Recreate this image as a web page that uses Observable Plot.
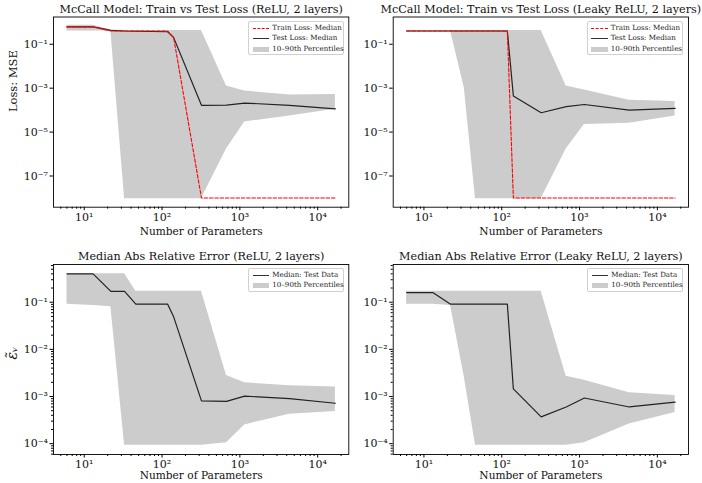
<!DOCTYPE html>
<html>
<head>
<meta charset="utf-8">
<script src="https://cdn.jsdelivr.net/npm/d3@7"></script>
<script src="https://cdn.jsdelivr.net/npm/@observablehq/plot@0.6"></script>
<style>
  body { margin: 0; background: #fff; }
  #wrap { position: relative; width: 702px; height: 483px; background: #fff; font-family: "DejaVu Serif", serif; }
  .panel { position: absolute; }
  .panel svg { background: transparent !important; overflow: visible; }
  .legend { position: absolute; border: 0.8px solid #d0d0d0; border-radius: 2px; background: rgba(255,255,255,0.85); font-family: "DejaVu Serif", serif; font-size: 7.1px; color: #222; box-sizing: border-box; }
  .legend .row { position: absolute; left: 0; height: 8px; width: 100%; }
  .legend .h { position: absolute; left: 3.5px; width: 16.5px; }
  .legend .t { position: absolute; left: 23px; top: -1.3px; white-space: nowrap; line-height: 10px; }
</style>
</head>
<body>
<div id="wrap"></div>
<script>
// ---------------- data ----------------
const params = [6, 13, 22, 33, 46, 118, 141, 321, 673, 1153, 4353, 16897];

// Top-left: ReLU loss
const trainMedReLU = [0.62, 0.62, 0.4, 0.4, 0.4, 0.4, 0.2, 1e-8, 1e-8, 1e-8, 1e-8, 1e-8];
const testMedReLU  = [0.62, 0.62, 0.43, 0.4, 0.39, 0.37, 0.2, 1.66e-4, 1.7e-4, 2.1e-4, 1.65e-4, 1.15e-4];
const testLoReLU   = [0.4, 0.4, 0.4, 9.3e-9, 9.3e-9, 9.3e-9, 9.3e-9, 9.3e-9, 1.7e-6, 2.9e-5, 5.4e-5, 1.1e-4];
const testHiReLU   = [0.74, 0.74, 0.45, 0.42, 0.42, 0.42, 0.42, 0.42, 1.26e-3, 7.4e-4, 4.9e-4, 5.2e-4];

// Top-right: Leaky ReLU loss
const trainMedLeaky = [0.4, 0.4, 0.4, 0.4, 0.4, 0.4, 1e-8, 1e-8, 1e-8, 1e-8, 1e-8, 1e-8];
const testMedLeaky  = [0.4, 0.4, 0.4, 0.4, 0.4, 0.4, 4.4e-4, 7.6e-5, 1.45e-4, 1.8e-4, 1.0e-4, 1.2e-4];
const testLoLeaky   = [0.4, 0.4, 0.4, 1.05e-3, 9.3e-9, 9.3e-9, 9.3e-9, 9.3e-9, 1.7e-6, 2.2e-5, 2.5e-5, 5.4e-5];
const testHiLeaky   = [0.42, 0.42, 0.42, 0.42, 0.42, 0.42, 0.42, 0.42, 1.26e-3, 8.3e-4, 2.8e-4, 2.5e-4];

// Bottom-left: ReLU relative error
const errMedReLU = [0.4, 0.4, 0.17, 0.17, 0.091, 0.091, 0.049, 8.1e-4, 7.9e-4, 1.02e-3, 9e-4, 7.2e-4];
const errLoReLU  = [0.091, 0.085, 0.08, 9.3e-5, 9.3e-5, 9.3e-5, 9.3e-5, 9.3e-5, 1.05e-4, 2.5e-4, 4.2e-4, 4.8e-4];
const errHiReLU  = [0.4, 0.4, 0.4, 0.4, 0.17, 0.17, 0.17, 0.17, 2.8e-3, 1.95e-3, 1.7e-3, 1.6e-3];

// Bottom-right: Leaky ReLU relative error
const errMedLeaky = [0.16, 0.16, 0.091, 0.091, 0.091, 0.091, 1.45e-3, 3.7e-4, 6e-4, 9.3e-4, 6e-4, 7.6e-4];
const errLoLeaky  = [0.091, 0.091, 0.085, 2.6e-3, 9.3e-5, 9.3e-5, 9.3e-5, 9.3e-5, 9.3e-5, 1.05e-4, 2.6e-4, 4.6e-4];
const errHiLeaky  = [0.17, 0.17, 0.17, 0.17, 0.17, 0.17, 0.17, 0.17, 2.7e-3, 2.2e-3, 1.2e-3, 1.05e-3];

// ticks & labels
const xMajor = [10, 100, 1000, 10000];
const yMajorLoss = [1e-1, 1e-3, 1e-5, 1e-7];
const yMajorErr = [1e-1, 1e-2, 1e-3, 1e-4];
const titles = [
  "McCall Model: Train vs Test Loss (ReLU, 2 layers)",
  "McCall Model: Train vs Test Loss (Leaky ReLU, 2 layers)",
  "Median Abs Relative Error (ReLU, 2 layers)",
  "Median Abs Relative Error (Leaky ReLU, 2 layers)"
];
const xLabel = "Number of Parameters";
const yLabels = ["Loss: MSE", "\u03B5\u0303\u1D65"];
const legendLoss = ["Train Loss: Median", "Test Loss: Median", "10\u201390th Percentiles"];
const legendErr = ["Median: Test Data", "10\u201390th Percentiles"];

// ---------------- helpers ----------------
const SUP = {"0":"\u2070","1":"\u00B9","2":"\u00B2","3":"\u00B3","4":"\u2074","5":"\u2075","6":"\u2076","7":"\u2077","8":"\u2078","9":"\u2079","-":"\u207B"};
const fmtPow = v => "10" + String(Math.round(Math.log10(v))).split("").map(c => SUP[c]).join("");
const minorTicks = (lo, hi) => {
  const out = [];
  for (let e = Math.floor(Math.log10(lo)); e <= Math.ceil(Math.log10(hi)); e++)
    for (let m = 2; m <= 9; m++) { const v = m * Math.pow(10, e); if (v >= lo && v <= hi) out.push(v); }
  return out;
};

const xDomain = [Math.pow(10, 0.605), Math.pow(10, 4.40)];
const yDomLoss = [Math.pow(10, -8.42), Math.pow(10, 0.24)];
const yDomErr = [Math.pow(10, -4.23), Math.pow(10, -0.2)];

const wrap = document.getElementById("wrap");

function panel(cfg) {
  const rows = params.map((p, i) => ({p, lo: cfg.lo[i], hi: cfg.hi[i], med: cfg.med[i], train: cfg.train ? cfg.train[i] : null}));
  const marks = [
    Plot.areaY(rows, {x: "p", y1: "lo", y2: "hi", fill: "#cccccc", curve: "linear"}),
  ];
  marks.push(Plot.lineY(rows, {x: "p", y: "med", stroke: "#222", strokeWidth: 1.2}));
  if (cfg.train) marks.push(Plot.lineY(rows, {x: "p", y: "train", stroke: "red", strokeWidth: 1.1, strokeDasharray: "3.5,1.8"}));
  marks.push(
    Plot.frame({stroke: "black", strokeWidth: 0.9}),
    Plot.axisX(xMajor, {tickSize: 3.5, tickPadding: 2, tickFormat: fmtPow, fontSize: 11, label: null, stroke: "black"}),
    Plot.axisX(minorTicks(xDomain[0], xDomain[1]), {tickSize: 2, tickFormat: () => "", label: null, stroke: "black"}),
    Plot.axisY(cfg.yMajor, {tickSize: 3.5, tickPadding: 2, tickFormat: fmtPow, fontSize: 11, label: null, stroke: "black"}),
    Plot.text([cfg.title], {text: d => d, frameAnchor: "top", dy: cfg.titleDy, fontSize: 11.2, lineAnchor: "middle", fill: "#111"}),
    Plot.text([xLabel], {text: d => d, frameAnchor: "bottom", dy: cfg.xlabelDy, fontSize: 10.6, lineAnchor: "middle", fill: "#111"})
  );
  if (cfg.yMinor) marks.push(Plot.axisY(minorTicks(cfg.yDom[0], cfg.yDom[1]), {tickSize: 2, tickFormat: () => "", label: null, stroke: "black"}));
  if (cfg.ylabel) marks.push(Plot.text([cfg.ylabel], {text: d => d, frameAnchor: "left", dx: cfg.ylabelDx, rotate: -90, fontSize: cfg.ylabelSize, fontStyle: cfg.ylabelItalic ? "italic" : "normal", lineAnchor: "middle", fill: "#111"}));

  const plot = Plot.plot({
    width: cfg.width, height: cfg.height,
    marginLeft: cfg.mL, marginRight: cfg.mR, marginTop: cfg.mT, marginBottom: cfg.mB,
    x: {type: "log", domain: xDomain},
    y: {type: "log", domain: cfg.yDom},
    style: {fontFamily: "DejaVu Serif, serif", fontSize: "11px", background: "transparent", color: "#111"},
    marks
  });
  const d = document.createElement("div");
  d.className = "panel";
  d.style.left = cfg.left + "px";
  d.style.top = cfg.top + "px";
  d.appendChild(plot);
  wrap.appendChild(d);
}

function legend(x, y, w, h, labels, withTrain) {
  const L = document.createElement("div");
  L.className = "legend";
  L.style.left = x + "px"; L.style.top = y + "px"; L.style.width = w + "px"; L.style.height = h + "px";
  const rowsY = withTrain ? [2.5, 12.5, 23] : [2.5, 12.8];
  labels.forEach((lab, i) => {
    const r = document.createElement("div");
    r.className = "row"; r.style.top = rowsY[i] + "px";
    const hnd = document.createElement("div");
    hnd.className = "h";
    const kind = withTrain ? ["train", "test", "band"][i] : ["test", "band"][i];
    if (kind === "train") { hnd.style.top = "3.5px"; hnd.style.borderTop = "1.1px dashed red"; }
    else if (kind === "test") { hnd.style.top = "3.5px"; hnd.style.borderTop = "1.3px solid #333"; }
    else { hnd.style.top = "1.5px"; hnd.style.height = "5px"; hnd.style.background = "#cccccc"; }
    const t = document.createElement("div");
    t.className = "t"; t.textContent = lab;
    r.appendChild(hnd); r.appendChild(t);
    L.appendChild(r);
  });
  wrap.appendChild(L);
}

// top-left
panel({left: 0, top: 0, width: 351, height: 241, mL: 53, mR: 2.7, mT: 16.5, mB: 34.3,
  yDom: yDomLoss, yMajor: yMajorLoss, yMinor: false,
  lo: testLoReLU, hi: testHiReLU, med: testMedReLU, train: trainMedReLU,
  title: titles[0], titleDy: -7.5, xlabelDy: 24, ylabel: yLabels[0], ylabelDx: -40, ylabelSize: 11.5});
// top-right
panel({left: 351, top: 0, width: 351, height: 241, mL: 41.7, mR: 14, mT: 16.5, mB: 34.3,
  yDom: yDomLoss, yMajor: yMajorLoss, yMinor: false,
  lo: testLoLeaky, hi: testHiLeaky, med: testMedLeaky, train: trainMedLeaky,
  title: titles[1], titleDy: -7.5, xlabelDy: 24});
// bottom-left
panel({left: 0, top: 241, width: 351, height: 242, mL: 53, mR: 2.7, mT: 23, mB: 29,
  yDom: yDomErr, yMajor: yMajorErr, yMinor: true,
  lo: errLoReLU, hi: errHiReLU, med: errMedReLU,
  title: titles[2], titleDy: -8, xlabelDy: 21.5, ylabel: yLabels[1], ylabelDx: -41, ylabelSize: 14, ylabelItalic: true});
// bottom-right
panel({left: 351, top: 241, width: 351, height: 242, mL: 41.7, mR: 14, mT: 23, mB: 29,
  yDom: yDomErr, yMajor: yMajorErr, yMinor: true,
  lo: errLoLeaky, hi: errHiLeaky, med: errMedLeaky,
  title: titles[3], titleDy: -8, xlabelDy: 21.5});

legend(248.3, 21, 96, 33.5, legendLoss, true);
legend(586.7, 21, 96.6, 33.5, legendLoss, true);
legend(248.3, 267.7, 95.7, 24, legendErr, false);
legend(587.3, 267.7, 96, 24, legendErr, false);
</script>
</body>
</html>
